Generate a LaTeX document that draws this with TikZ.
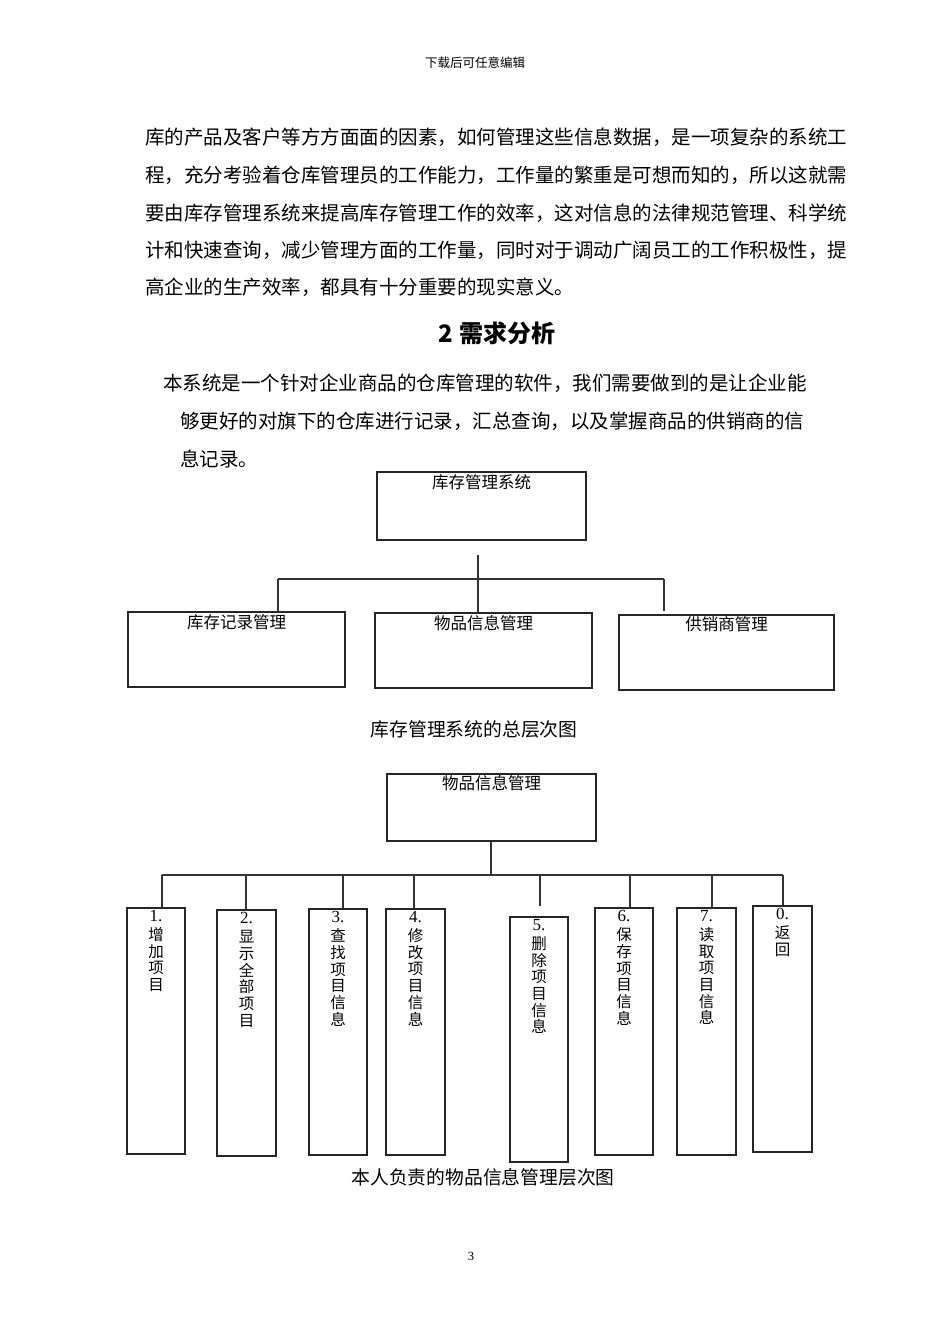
\documentclass[tikz,border=0pt]{standalone}
\usepackage{fontspec}
\setmainfont{Liberation Serif}
\newfontfamily\cjk{Noto Sans CJK SC}
\newcommand\dnum[1]{{\rmfamily\fontsize{17}{16.7}\selectfont #1}}
\begin{document}
\begin{tikzpicture}[x=1pt,y=-1pt,
  box/.style={draw=black!85, line width=1.1pt, inner sep=0pt},
  conn/.style={draw=black!80, line width=1.1pt},
  body/.style={font=\cjk\fontsize{19.5}{20}\selectfont, anchor=west, inner sep=0pt},
  lbl/.style={font=\cjk\fontsize{16.5}{18}\selectfont, inner sep=0pt},
  vlbl/.style={font=\cjk\fontsize{15.5}{16.7}\selectfont, inner sep=0pt, anchor=north, align=center},
  captxt/.style={font=\cjk\fontsize{18.8}{20}\selectfont, inner sep=0pt}]
\useasboundingbox (0,0) rectangle (950,1344);
\fill[white] (0,0) rectangle (950,1344);

% header and page number
\node[font=\cjk\fontsize{12.5}{14}\selectfont, inner sep=0pt] (hdr) at (475,63) {下载后可任意编辑};
\node[font=\fontsize{12.5}{14}\selectfont, inner sep=0pt] (pg) at (471,1256) {3};

% paragraph
\node[body] (p1) at (145,137) {库的产品及客户等方方面面的因素，如何管理这些信息数据，是一项复杂的系统工};
\node[body] (p2) at (145,175) {程，充分考验着仓库管理员的工作能力，工作量的繁重是可想而知的，所以这就需};
\node[body] (p3) at (145,213) {要由库存管理系统来提高库存管理工作的效率，这对信息的法律规范管理、科学统};
\node[body] (p4) at (145,250) {计和快速查询，减少管理方面的工作量，同时对于调动广阔员工的工作积极性，提};
\node[body] (p5) at (145,287) {高企业的生产效率，都具有十分重要的现实意义。};

% heading
\node[font=\cjk\bfseries\fontsize{24}{26}\selectfont, inner sep=0pt] (h2) at (497,333) {2 需求分析};

% intro
\node[body] (i1) at (163,383) {本系统是一个针对企业商品的仓库管理的软件，我们需要做到的是让企业能};
\node[body] (i2) at (180,421) {够更好的对旗下的仓库进行记录，汇总查询，以及掌握商品的供销商的信};
\node[body] (i3) at (180,459) {息记录。};

% ---------- diagram 1 ----------
\node[box, minimum width=209pt, minimum height=68pt] (t1) at (481.5,506) {};
\node[lbl] (t1l) at (481.5,482) {库存管理系统};
\node[box, minimum width=217pt, minimum height=75pt] (a1) at (236.5,649.5) {};
\node[lbl] (a1l) at (236.5,622) {库存记录管理};
\node[box, minimum width=217pt, minimum height=75pt] (a2) at (483.5,650.5) {};
\node[lbl] (a2l) at (483.5,623) {物品信息管理};
\node[box, minimum width=215pt, minimum height=75pt] (a3) at (726.5,652.5) {};
\node[lbl] (a3l) at (726.5,624) {供销商管理};

\coordinate (st1) at (478,555);
\coordinate (hl1) at (278,579);
\coordinate (hr1) at (664,579);
\coordinate (hre) at (664,611);
\draw[conn] (hl1) -- (hr1);
\draw[conn] (st1) -- (st1 |- a2.north);
\draw[conn] (hl1) -- (hl1 |- a1.north);
\draw[conn] (hr1) -- (hre);

\node[captxt] (c1) at (474,729) {库存管理系统的总层次图};

% ---------- diagram 2 ----------
\node[box, minimum width=209pt, minimum height=67pt] (t2) at (491.5,807.5) {};
\node[lbl] (t2l) at (491.5,783) {物品信息管理};

\node[box, minimum width=58pt, minimum height=246pt] (s1) at (156,1031) {};
\node[box, minimum width=59pt, minimum height=246pt] (s2) at (246.5,1033) {};
\node[box, minimum width=58pt, minimum height=246pt] (s3) at (338,1032) {};
\node[box, minimum width=59pt, minimum height=246pt] (s4) at (415.5,1032) {};
\node[box, minimum width=58pt, minimum height=245pt] (s5) at (539,1039.5) {};
\node[box, minimum width=58pt, minimum height=247pt] (s6) at (624,1031.5) {};
\node[box, minimum width=59pt, minimum height=247pt] (s7) at (706.5,1031.5) {};
\node[box, minimum width=59pt, minimum height=246pt] (s8) at (782.5,1029) {};

\node[vlbl] (l1) at ([yshift=-3pt]s1.north) {\dnum{1.}\\[2pt]增\\加\\项\\目};
\node[vlbl] (l2) at ([yshift=-3pt]s2.north) {\dnum{2.}\\[2pt]显\\示\\全\\部\\项\\目};
\node[vlbl] (l3) at ([yshift=-3pt]s3.north) {\dnum{3.}\\[2pt]查\\找\\项\\目\\信\\息};
\node[vlbl] (l4) at ([yshift=-3pt]s4.north) {\dnum{4.}\\[2pt]修\\改\\项\\目\\信\\息};
\node[vlbl] (l5) at ([yshift=-3pt]s5.north) {\dnum{5.}\\[2pt]删\\除\\项\\目\\信\\息};
\node[vlbl] (l6) at ([yshift=-3pt]s6.north) {\dnum{6.}\\[2pt]保\\存\\项\\目\\信\\息};
\node[vlbl] (l7) at ([yshift=-3pt]s7.north) {\dnum{7.}\\[2pt]读\\取\\项\\目\\信\\息};
\node[vlbl] (l8) at ([yshift=-3pt]s8.north) {\dnum{0.}\\[2pt]返\\回};

\coordinate (j2) at (491,875);
\coordinate (hl2) at (162,875);
\coordinate (hr2) at (783,875);
\draw[conn] (t2.south -| j2) -- (j2);
\draw[conn] (hl2) -- (hr2);
\coordinate (d1) at (162,875);
\coordinate (d2) at (246,875);
\coordinate (d3) at (343,875);
\coordinate (d4) at (414,875);
\coordinate (d5) at (540,875);
\coordinate (d5e) at (540,906);
\coordinate (d6) at (630,875);
\coordinate (d7) at (712,875);
\coordinate (d8) at (783,875);
\draw[conn] (d1) -- (d1 |- s1.north);
\draw[conn] (d2) -- (d2 |- s2.north);
\draw[conn] (d3) -- (d3 |- s3.north);
\draw[conn] (d4) -- (d4 |- s4.north);
\draw[conn] (d5) -- (d5e);
\draw[conn] (d6) -- (d6 |- s6.north);
\draw[conn] (d7) -- (d7 |- s7.north);
\draw[conn] (d8) -- (d8 |- s8.north);

\node[captxt] (c2) at (483,1177) {本人负责的物品信息管理层次图};
\end{tikzpicture}
\end{document}
